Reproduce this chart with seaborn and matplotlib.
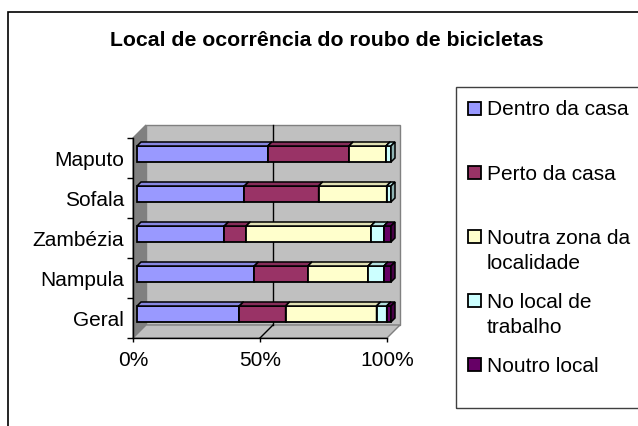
import numpy as np
import pandas as pd
import matplotlib
matplotlib.use("Agg")
import matplotlib.pyplot as plt
import seaborn as sns
from matplotlib.patches import Rectangle, Polygon
from matplotlib.transforms import IdentityTransform, offset_copy
from matplotlib.colors import to_rgb

# Share of bicycle thefts by place of occurrence (% of cases per region)
regions = ["Maputo", "Sofala", "Zambézia", "Nampula", "Geral"]
dentro_da_casa = [51.5, 42.3, 34.4, 46.2, 40.3]
perto_da_casa = [32.0, 29.2, 8.6, 21.1, 18.2]
noutra_zona = [14.5, 26.8, 49.1, 23.7, 35.8]
local_trabalho = [2.0, 1.7, 5.1, 6.2, 4.0]
noutro_local = [0.0, 0.0, 2.8, 2.8, 1.7]

series_names = ["Dentro da casa", "Perto da casa", "Noutra zona da\nlocalidade",
                "No local de\ntrabalho", "Noutro local"]
series_values = [dentro_da_casa, perto_da_casa, noutra_zona, local_trabalho, noutro_local]
series_colors = ["#9999FF", "#993366", "#FFFFCC", "#CCFFFF", "#660066"]

x_ticks = [0, 50, 100]
x_ticklabels = ["0%", "50%", "100%"]
title = "Local de ocorrência do roubo de bicicletas"

plt.rcParams["font.family"] = ["Liberation Sans", "DejaVu Sans"]
FS = 15.0

W, H = 638, 426
fig = plt.figure(figsize=(W / 100, H / 100), dpi=100)
fig.patch.set_facecolor("white")

# front plane of the 3-D plot box (pixels)
px0, px1, py_top, py_bot = 133, 387, 138, 338
ax = fig.add_axes([px0 / W, (H - py_bot) / H, (px1 - px0) / W, (py_bot - py_top) / H])
ax.set_facecolor("none")

WALL = 13      # depth of the box, px
BAR_OFF = 4    # bars sit this far behind the front plane, px
BAR_D = 4      # bar thickness in depth, px

left = np.zeros(len(regions))
for k, (vals, col) in enumerate(zip(series_values, series_colors)):
    df = pd.DataFrame({"region": regions, "pct": vals})
    n_before = len(ax.patches)
    sns.barplot(data=df, x="pct", y="region", order=regions, orient="h",
                color=col, saturation=1, width=0.4, errorbar=None,
                left=left.copy(), edgecolor="black", linewidth=1.3, ax=ax)
    for p in ax.patches[n_before:]:
        p.set_zorder(3 + k * 0.1)
        p.set_gid(str(k))
    left += np.asarray(vals)

ax.set_xlim(0, 100)
ax.set_ylim(len(regions) - 0.5, -0.5)
ax.set_xlabel("")
ax.set_ylabel("")

# push the bar fronts back into the box
shifted = offset_copy(ax.transData, fig=fig, x=BAR_OFF, y=BAR_OFF, units="dots")
ident = IdentityTransform()


def shade(c, f):
    r, g, b = to_rgb(c)
    return (r * f, g * f, b * f)


for p in list(ax.patches):
    k = int(p.get_gid())
    if p.get_width() <= 0:
        p.set_visible(False)
        continue
    p.set_transform(shifted)
    p.set_clip_on(False)
    x0, y0 = p.get_x(), p.get_y()
    x1, y1 = x0 + p.get_width(), y0 + p.get_height()
    (X0, Ya), (X1, Yb) = shifted.transform([(x0, y0), (x1, y1)])
    Ytop, Ybot = max(Ya, Yb), min(Ya, Yb)
    col = series_colors[k]
    top = Polygon([(X0, Ytop), (X1, Ytop), (X1 + BAR_D, Ytop + BAR_D), (X0 + BAR_D, Ytop + BAR_D)],
                  closed=True, transform=ident, facecolor=shade(col, 0.88),
                  edgecolor="black", linewidth=1.1, zorder=3 + k * 0.1 + 0.05, clip_on=False)
    end = Polygon([(X1, Ybot), (X1, Ytop), (X1 + BAR_D, Ytop + BAR_D), (X1 + BAR_D, Ybot + BAR_D)],
                  closed=True, transform=ident, facecolor=shade(col, 0.7),
                  edgecolor="black", linewidth=1.1, zorder=3 + k * 0.1 + 0.05, clip_on=False)
    ax.add_patch(top)
    ax.add_patch(end)

# walls and floor of the box
(FX0, FYB), (FX1, FYT) = ax.transAxes.transform([(0, 0), (1, 1)])
wall_kw = dict(transform=ident, clip_on=False, edgecolor="#808080", linewidth=1.0)
ax.add_patch(Polygon([(FX0 + WALL, FYB + WALL), (FX1 + WALL, FYB + WALL),
                      (FX1 + WALL, FYT + WALL), (FX0 + WALL, FYT + WALL)],
                     facecolor="#C0C0C0", zorder=0.5, **wall_kw))
ax.add_patch(Polygon([(FX0, FYB), (FX0, FYT), (FX0 + WALL, FYT + WALL), (FX0 + WALL, FYB + WALL)],
                     facecolor="#808080", zorder=0.6, **wall_kw))
ax.add_patch(Polygon([(FX0, FYB), (FX1, FYB), (FX1 + WALL, FYB + WALL), (FX0 + WALL, FYB + WALL)],
                     facecolor="#C0C0C0", zorder=0.6, **wall_kw))

# gridlines on the back wall and the floor
for xv in x_ticks[1:-1]:
    GX = ax.transData.transform((xv, 0))[0]
    ax.plot([GX + WALL, GX + WALL], [FYB + WALL, FYT + WALL], color="black", lw=1.0,
            transform=ident, clip_on=False, zorder=0.7)
    ax.plot([GX, GX + WALL], [FYB, FYB + WALL], color="black", lw=1.0,
            transform=ident, clip_on=False, zorder=0.7)

# axes lines, ticks and labels
for s in ["top", "right"]:
    ax.spines[s].set_visible(False)
for s in ["left", "bottom"]:
    ax.spines[s].set_color("black")
    ax.spines[s].set_linewidth(1.0)
    ax.spines[s].set_zorder(2)

ax.set_xticks(x_ticks, x_ticklabels)
ax.set_yticks(range(len(regions)), regions)
ax.set_yticks(np.arange(len(regions) + 1) - 0.5, minor=True)
ax.tick_params(axis="x", which="major", length=3, width=1, direction="out",
               labelsize=FS, pad=6, colors="black")
ax.tick_params(axis="y", which="major", length=0, labelsize=FS, pad=6.5)
ax.tick_params(axis="y", which="minor", length=4.5, width=1, direction="out")
ax.tick_params(axis="x", which="minor", length=0)

fig.text(327 / W, 1 - 40 / H, title, ha="center", va="center",
         fontsize=15.3, fontweight="bold")

# chart frame
fig.add_artist(Rectangle((8, -20), 700, (H - 12) + 20, transform=ident,
                         fill=False, edgecolor="black", linewidth=1.2))

# legend
fig.add_artist(Rectangle((456, H - 408), 300, 408 - 87, transform=ident,
                         fill=False, edgecolor="#404040", linewidth=1.0))
entry_y0, entry_step, line_step = 108, 64.2, 25
for i, (name, col) in enumerate(zip(series_names, series_colors)):
    yc = H - (entry_y0 + i * entry_step)
    fig.add_artist(Rectangle((467.5, yc - 6.5), 13, 13, transform=ident,
                             facecolor=col, edgecolor="black", linewidth=1.3))
    for j, line in enumerate(name.split("\n")):
        fig.text(487, yc - 7.3 - j * line_step, line, transform=ident,
                 ha="left", va="baseline", fontsize=FS)

fig.savefig("out.png", dpi=100)
